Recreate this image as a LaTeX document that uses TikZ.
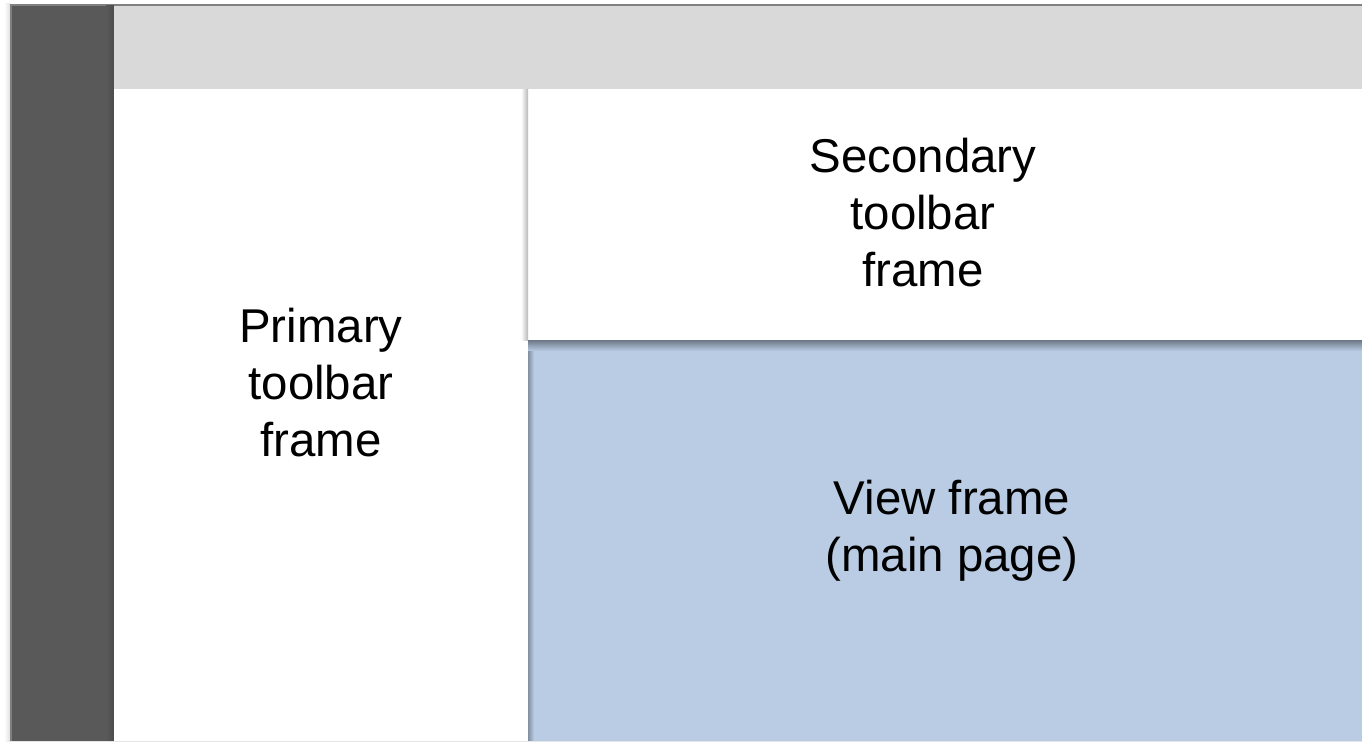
\documentclass[tikz,border=0pt]{standalone}
\usepackage{fontspec}
\setmainfont{Liberation Sans}
\definecolor{sidebar}{HTML}{595959}
\definecolor{topbar}{HTML}{D9D9D9}
\definecolor{rim}{HTML}{808080}
\definecolor{viewblue}{HTML}{B9CCE4}
\begin{document}
\begin{tikzpicture}[x=0.02cm,y=-0.02cm,
    framelabel/.style={align=center,anchor=base,font=\fontsize{27}{32.5}\selectfont}]
  \useasboundingbox (0,0) rectangle (1362,742);
  \fill[white] (0,0) rectangle (1362,742);
  % window rim and its soft shadow
  \shade[left color=white,right color=black!12] (4,4) rectangle (10,742);
  \fill[rim] (10,4) rectangle (1362,742);
  % sidebar
  \fill[sidebar] (12,6) rectangle (114,742);
  \shade[left color=sidebar,right color=sidebar!85!black] (106,6) rectangle (114,742);
  % top bar
  \fill[topbar] (114,6) rectangle (1362,89);
  \draw[black!20] (114,89) -- (1362,89);
  % primary and secondary toolbar frames
  \fill[white] (114,89.5) rectangle (1362,742);
  \shade[left color=white,right color=black!28] (521,90) rectangle (528,341);
  % view frame
  \fill[viewblue] (528,341) rectangle (1362,742);
  \shade[left color=viewblue!70!black,right color=viewblue] (528,341) rectangle (534,742);
  \shade[top color=viewblue!62!black,bottom color=viewblue] (528,341) rectangle (1362,351);
  \draw[black!10] (10,741.5) -- (1362,741.5);
  % labels (base = last line)
  \node[framelabel] (primary) at (321,457) {Primary\\toolbar\\frame};
  \node[framelabel] (secondary) at (923,287) {Secondary\\toolbar\\frame};
  \node[framelabel] (view) at (952,572) {View frame\\(main page)};
\end{tikzpicture}
\end{document}
